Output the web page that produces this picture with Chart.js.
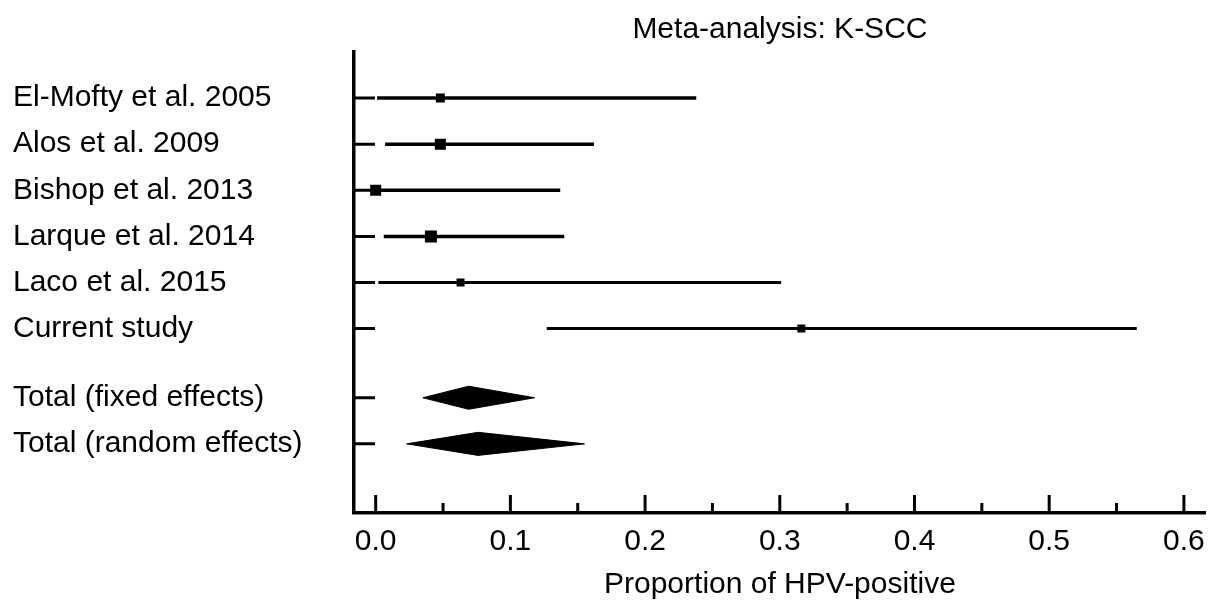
<!DOCTYPE html>
<html>
<head>
<meta charset="utf-8">
<script src="https://cdn.jsdelivr.net/npm/chart.js@4"></script>
<style>
  body { margin: 0; background: #fff; }
  #wrap { width: 1216px; height: 608px; }
</style>
</head>
<body>
<div id="wrap"><canvas id="forest"></canvas></div>
<script>
// forest plot: proportion of HPV-positive K-SCC per study

const studies = ['El-Mofty et al. 2005', 'Alos et al. 2009', 'Bishop et al. 2013',
  'Larque et al. 2014', 'Laco et al. 2015', 'Current study']
const estimate = [0.048, 0.048, 0.0, 0.041, 0.063, 0.316]
const lower = [0.001, 0.007, 0.0, 0.006, 0.002, 0.127]
const upper = [0.238, 0.162, 0.137, 0.140, 0.301, 0.565]

const pooledLabels = ['Total (fixed effects)', 'Total (random effects)']
const pooledEstimate = [0.069, 0.076]
const pooledLower = [0.035, 0.023]
const pooledUpper = [0.118, 0.155]

const xTicks = [0.0, 0.1, 0.2, 0.3, 0.4, 0.5, 0.6]
const xMinorTicks = [0.05, 0.15, 0.25, 0.35, 0.45, 0.55]

// row positions on the y scale (gap before the pooled rows)
const studyRows = [1, 2, 3, 4, 5, 6]
const pooledRows = [7.5, 8.5]

// style only
const boxSide = [9, 11, 11, 12, 8, 8]
const lineWidths = [3.5, 3.5, 3.5, 3.5, 3, 3]
const diamondHalf = 0.25

Chart.defaults.font.family = '"Liberation Sans", Arial, sans-serif'
Chart.defaults.font.size = 30
Chart.defaults.color = '#000'

const allLabels = studies.concat(pooledLabels)
const allRows = studyRows.concat(pooledRows)

const ciSets = studies.map((s, i) => ({
  type: 'line',
  data: [{ x: lower[i], y: studyRows[i] }, { x: upper[i], y: studyRows[i] }],
  borderColor: '#000',
  borderWidth: lineWidths[i],
  pointRadius: 0,
  fill: false,
  order: 2,
}))

const diamondSets = pooledLabels.map((s, i) => ({
  type: 'line',
  data: [
    { x: pooledLower[i], y: pooledRows[i] },
    { x: pooledEstimate[i], y: pooledRows[i] - diamondHalf },
    { x: pooledUpper[i], y: pooledRows[i] },
    { x: pooledEstimate[i], y: pooledRows[i] + diamondHalf },
    { x: pooledLower[i], y: pooledRows[i] },
  ],
  borderColor: '#000',
  backgroundColor: '#000',
  borderWidth: 1,
  pointRadius: 0,
  fill: 'shape',
  order: 1,
}))

const boxSet = {
  type: 'scatter',
  data: estimate.map((v, i) => ({ x: v, y: studyRows[i] })),
  pointStyle: 'rect',
  pointRadius: boxSide.map((s) => s / Math.SQRT2),
  backgroundColor: '#000',
  borderWidth: 0,
  order: 0,
}

// inward tick marks, major and minor
const tickMarks = {
  id: 'tickMarks',
  afterDraw(chart) {
    const { ctx, chartArea, scales } = chart
    ctx.save()
    ctx.strokeStyle = '#000'
    ctx.lineWidth = 3
    ctx.beginPath()
    allRows.forEach((r) => {
      const y = scales.y.getPixelForValue(r)
      ctx.moveTo(chartArea.left, y)
      ctx.lineTo(chartArea.left + 21, y)
    })
    xTicks.forEach((v) => {
      const x = scales.x.getPixelForValue(v)
      ctx.moveTo(x, chartArea.bottom)
      ctx.lineTo(x, chartArea.bottom - 18)
    })
    xMinorTicks.forEach((v) => {
      const x = scales.x.getPixelForValue(v)
      ctx.moveTo(x, chartArea.bottom)
      ctx.lineTo(x, chartArea.bottom - 10)
    })
    ctx.stroke()
    ctx.restore()
  },
}

new Chart(document.getElementById('forest'), {
  type: 'scatter',
  data: { datasets: [boxSet].concat(ciSets, diamondSets) },
  options: {
    responsive: true,
    maintainAspectRatio: false,
    animation: false,
    layout: { padding: { left: 13, right: 9, top: 0, bottom: 0 } },
    plugins: {
      legend: { display: false },
      tooltip: { enabled: false },
      title: {
        display: true,
        text: 'Meta-analysis: K-SCC',
        fullSize: false,
        font: { size: 30, weight: 'normal' },
        padding: { top: 12, bottom: 4 },
      },
    },
    scales: {
      x: {
        type: 'linear',
        min: -0.0161,
        max: 0.6163,
        afterBuildTicks: (s) => { s.ticks = xTicks.map((v) => ({ value: v })) },
        afterFit: (s) => { s.height = 95 },
        ticks: {
          callback: (v) => v.toFixed(1),
          padding: 11,
          maxRotation: 0,
          autoSkip: false,
        },
        grid: { display: false, drawTicks: false },
        border: { display: true, color: '#000', width: 3.5 },
        title: {
          display: true,
          text: 'Proportion of HPV-positive',
          font: { size: 30 },
          padding: { top: 7, bottom: 5 },
        },
      },
      y: {
        type: 'linear',
        min: 0,
        max: 10,
        reverse: true,
        afterBuildTicks: (s) => { s.ticks = allRows.map((v) => ({ value: v })) },
        afterFit: (s) => { s.width = 341 },
        ticks: {
          callback: (v, i) => allLabels[i],
          crossAlign: 'far',
          autoSkip: false,
        },
        grid: { display: false, drawTicks: false },
        border: { display: true, color: '#000', width: 3.5 },
      },
    },
  },
  plugins: [tickMarks],
})
</script>
</body>
</html>
